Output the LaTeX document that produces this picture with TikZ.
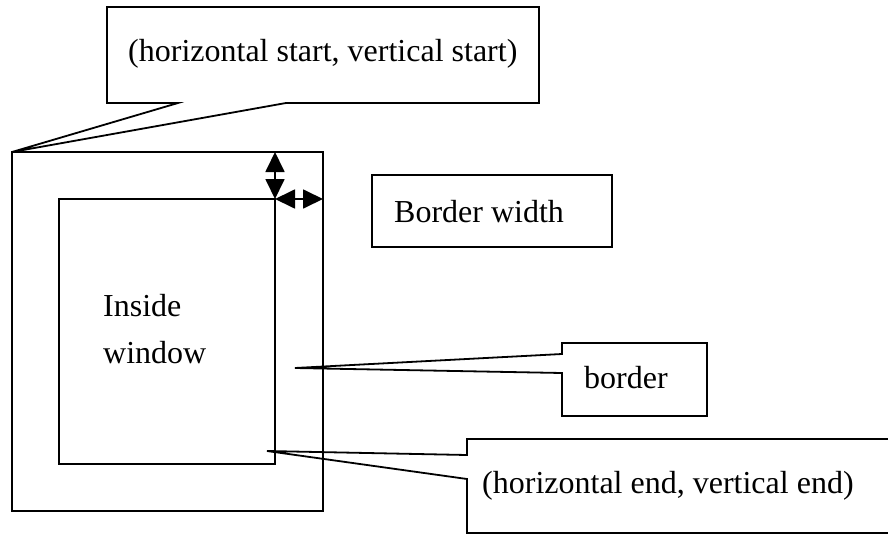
\documentclass[tikz,border=0pt]{standalone}
\usepackage{fontspec}
\setmainfont{Liberation Serif}
\usepackage{tikz}
\usetikzlibrary{positioning, arrows.meta, calc}

\tikzset{
    frame/.style={black, line width=1.8pt, line join=miter},
    boxtext/.style={anchor=base west, inner sep=0pt, font=\fontsize{32}{47}\selectfont},
    gap/.style={{Triangle[width=19pt,length=20pt]}-{Triangle[width=19pt,length=20pt]}, line width=1.8pt}
}

\begin{document}
\begin{tikzpicture}[x=1pt, y=-1pt]
    \useasboundingbox (0,0) rectangle (888,535);

    \coordinate (outerNW) at (12,152);
    \coordinate (outerNE) at (323,152);
    \coordinate (outerSE) at (323,511);
    \coordinate (innerNW) at (59,199);
    \coordinate (innerNE) at (275,199);
    \coordinate (innerSE) at (275,464);
    \coordinate (borderpt) at (295,368);
    \coordinate (endpt) at (267,451);

    % windows
    \draw[frame] (outerNW) rectangle (outerSE);
    \draw[frame] (innerNW) rectangle (innerSE);

    % border width
    \draw[gap] (innerNE |- outerNE) -- (innerNE);
    \draw[gap] (innerNE) -- (outerNE |- innerNE);

    % texts
    \node[boxtext] (start) at (128,62) {(horizontal start, vertical start)};
    \node[boxtext] (inside) at (103,316) {Inside};
    \node[boxtext] (window) at (103,363) {window};
    \node[boxtext] (width) at (394,222) {Border width};
    \node[boxtext] (border) at (584,388) {border};
    \node[boxtext] (end) at (482,493) {(horizontal end, vertical end)};

    % callouts
    \draw[frame] (107,7) -- (539,7) -- (539,103) -- (286,103) -- (outerNW)
        -- (178,103) -- (107,103) -- cycle;
    \draw[frame] (372,175) rectangle (612,247);
    \draw[frame] (562,343) -- (707,343) -- (707,416) -- (562,416) -- (562,373)
        -- (borderpt) -- (562,354) -- cycle;
    \draw[frame] (892,439) -- (467,439) -- (467,455) -- (endpt) -- (467,479)
        -- (467,533) -- (892,533);
\end{tikzpicture}
\end{document}
